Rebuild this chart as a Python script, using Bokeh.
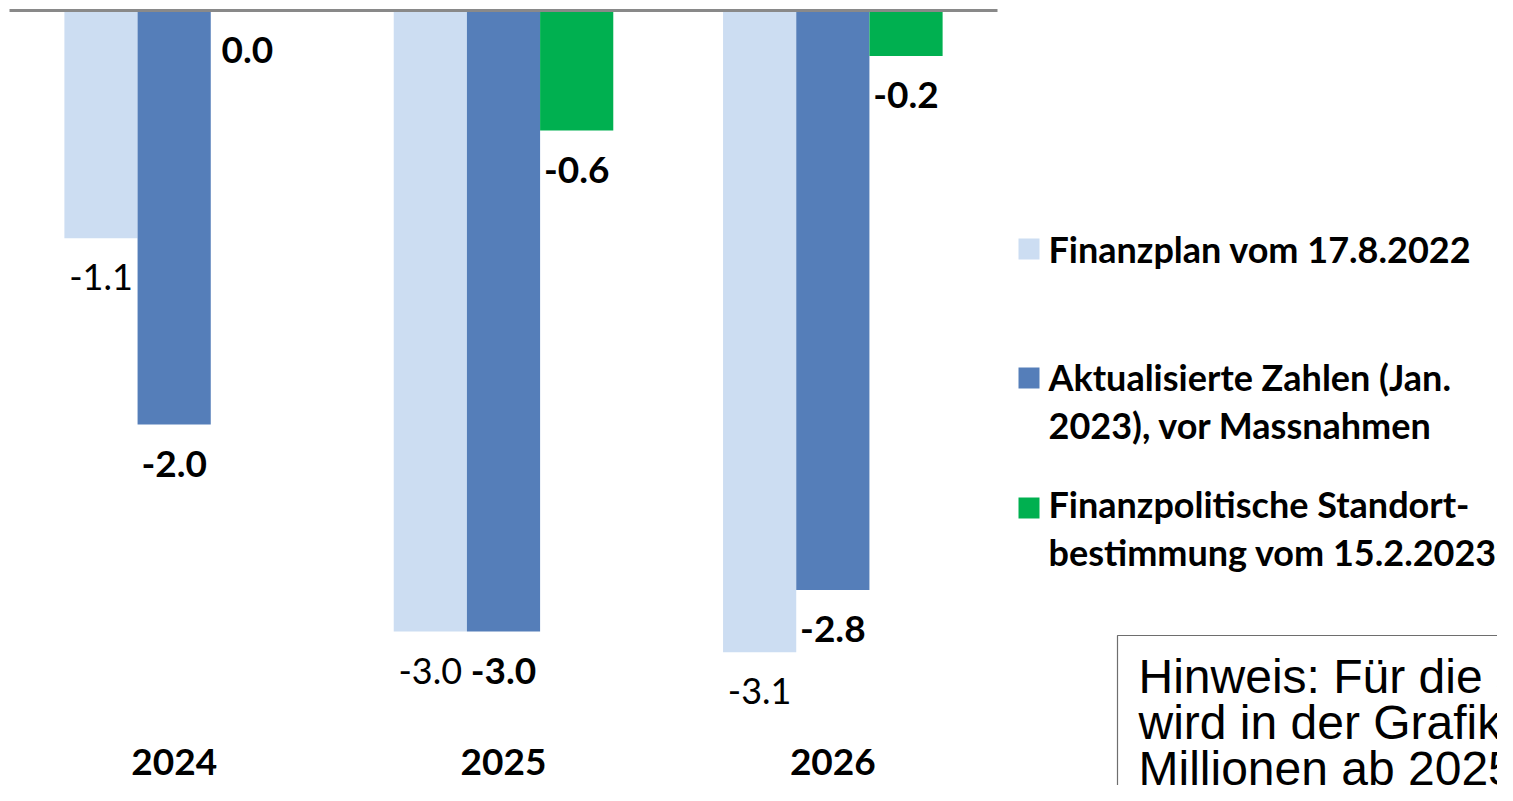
import numpy as np
from bokeh.plotting import figure
from bokeh.models import ColumnDataSource, Range1d
from bokeh.transform import dodge
from bokeh.core.properties import value
from bokeh.embed import file_html
from bokeh.resources import INLINE

# ---------------- data ----------------
years = ["2024", "2025", "2026"]
finanzplan = [-1.1, -3.0, -3.1]
aktualisiert = [-2.0, -3.0, -2.8]
standort = [0.0, -0.58, -0.22]
series_names = [
    ["Finanzplan vom 17.8.2022"],
    ["Aktualisierte Zahlen (Jan.", "2023), vor Massnahmen"],
    ["Finanzpolitische Standort-", "bestimmung vom 15.2.2023"],
]
note_lines = ["Hinweis: Für die s", "wird in der Grafik", "Millionen ab 2025"]

colors = ["#CCDDF2", "#557EB9", "#00B050"]

# ---------------- layout helpers (pixel -> data) ----------------
W, H = 1497, 785
PXU = 988 / 3.0      # px per category
PXY = 207.0          # px per unit value
BASE_FIX = 14        # svg text baseline correction (px)
def X(rx):
    return (rx - 9) / PXU
def Y(ry):
    return (10 - ry) / PXY

pos = list(np.arange(len(years)) + 0.5)
bw = 1 / 4.5
lab_off = (53 - BASE_FIX) / PXY

src = ColumnDataSource(dict(
    pos=pos, years=years,
    fp=finanzplan, ak=aktualisiert, st=standort,
    fp_lab=[f"{v:.1f}" for v in finanzplan],
    ak_lab=[f"{v:.1f}" for v in aktualisiert],
    st_lab=[f"{v:.1f}" for v in standort],
    fp_y=[v - lab_off for v in finanzplan],
    ak_y=[v - lab_off for v in aktualisiert],
    st_y=[v - lab_off for v in standort],
))

p = figure(width=W, height=H, output_backend="svg", toolbar_location=None,
           x_range=Range1d(X(0), X(W)), y_range=Range1d(Y(H), Y(0)),
           x_axis_location=None, y_axis_location=None, min_border=0)
p.grid.visible = False
p.outline_line_color = None
p.background_fill_color = "white"
p.border_fill_color = "white"

FONT = value("Lato")

for key, off, col in [("fp", -bw, colors[0]), ("ak", 0, colors[1]), ("st", bw, colors[2])]:
    p.vbar(x=dodge("pos", off, range=p.x_range), top=key, bottom=0, width=bw,
           source=src, fill_color=col, line_color=None)

# zero line
p.segment(x0=0, y0=0, x1=len(years), y1=0, line_color="#898989", line_width=3)

# data labels
for key, off, style, fs in [("fp", -bw, "normal", "36px"), ("ak", 0, "bold", "37px"),
                            ("st", bw, "bold", "37px")]:
    p.text(x=dodge("pos", off, range=p.x_range), y=key + "_y", text=key + "_lab",
           source=src, text_font=FONT, text_font_size=fs, text_font_style=style,
           text_align="center", text_baseline="alphabetic", text_color="black")

# year labels
p.text(x="pos", y=Y(775 - BASE_FIX), text="years", source=src, text_font=FONT,
       text_font_size="37px", text_font_style="bold", text_align="center",
       text_baseline="alphabetic", text_color="black")

# legend (manual)
sq_tops = [238, 367, 497]
base_lines = [[262], [390, 438], [517, 565]]
for col, top, names, bases in zip(colors, sq_tops, series_names, base_lines):
    p.quad(left=X(1018), right=X(1039), top=Y(top), bottom=Y(top + 21),
           fill_color=col, line_color=None)
    p.text(x=[X(1048)] * len(names), y=[Y(b - BASE_FIX) for b in bases], text=names,
           text_font=FONT, text_font_size="36px", text_font_style="bold",
           text_align="left", text_baseline="alphabetic", text_color="black")

# note box
NS = 10  # shift up so that the clipped box keeps its text visible
p.quad(left=X(1117), right=X(1600), top=Y(645 - NS), bottom=Y(900),
       fill_color="white", line_color="#6e6e6e", line_width=1.2)
p.text(x=[X(1138)] * 3, y=[Y(b - NS - 15) for b in (701, 747, 793)], text=note_lines,
       text_font=value("Liberation Sans"), text_font_size="48px",
       text_align="left", text_baseline="alphabetic", text_color="black")

open("out.html", "w").write(file_html(p, INLINE))
